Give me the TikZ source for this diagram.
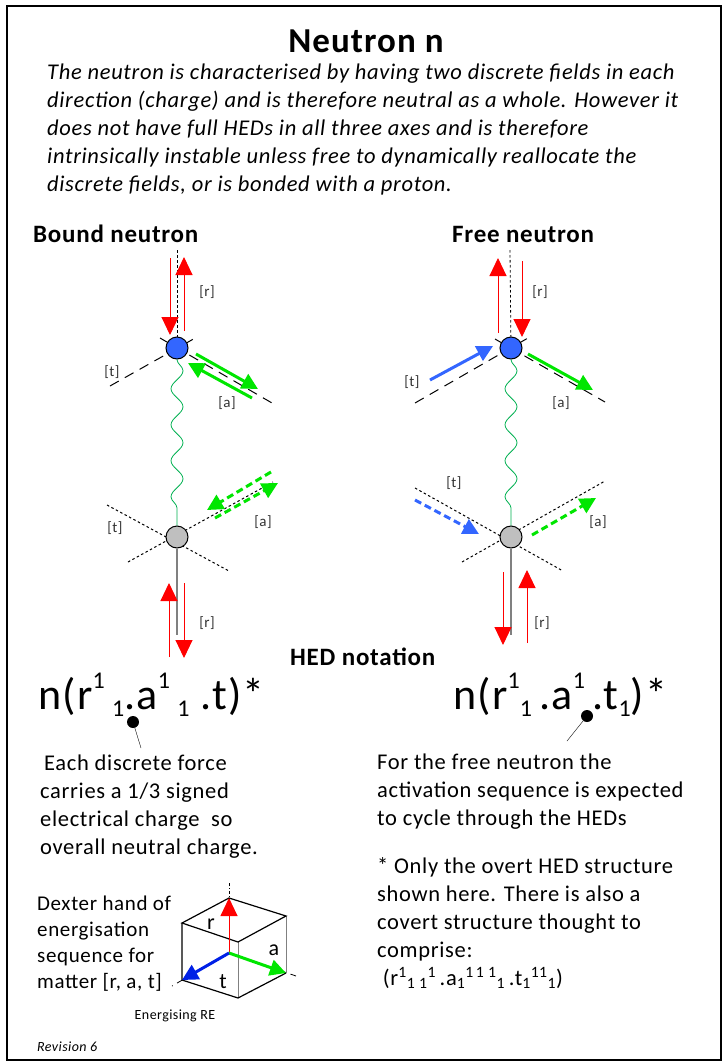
\documentclass[tikz,border=0pt]{standalone}
\usepackage{fontspec}
\setmainfont{Carlito}[LetterSpace=3]
\usetikzlibrary{arrows.meta,decorations.pathmorphing}
\definecolor{fred}{RGB}{255,0,0}
\definecolor{fgreen}{RGB}{0,230,0}
\definecolor{wgreen}{RGB}{0,176,80}
\definecolor{fblue}{RGB}{51,102,255}
\definecolor{cblue}{RGB}{0,32,230}
\definecolor{ngrey}{RGB}{191,191,191}
\newcommand\hsup[1]{\raisebox{21pt}{\fontsize{24}{24}\selectfont #1}}
\newcommand\hsub[1]{\raisebox{-7pt}{\fontsize{24}{24}\selectfont #1}}
\begin{document}
\begin{tikzpicture}[x=1pt, y=-1pt, every node/.style={inner sep=0pt},
    n/.style={circle, draw, line width=1pt, minimum size=22pt},
    lab/.style={font=\fontsize{15}{15}\selectfont, text=black!80},
    ax/.style={dash pattern=on 10pt off 7pt, line width=1pt},
    dax/.style={dash pattern=on 2.5pt off 2.5pt, line width=1pt},
    gdash/.style={dash pattern=on 7pt off 4pt},
    rarr/.style={fred, line width=1pt, -{Triangle[length=18pt,width=17pt]}},
    garr/.style={fgreen, line width=3pt, -{Triangle[length=16pt,width=16pt]}},
    barr/.style={fblue, line width=3pt, -{Triangle[length=16pt,width=16pt]}},
    wave/.style={wgreen, line width=0.8pt, decorate, decoration={snake, segment length=36pt, amplitude=6pt}},
    txt/.style={anchor=north west, align=left, font=\fontsize{22.5}{28}\selectfont}]
    \useasboundingbox (0,0) rectangle (724,1063);
    \draw[line width=2pt] (7,6) rectangle (721,1060);

    % heading and intro
    \node[anchor=base, font=\bfseries\fontsize{35}{35}\selectfont] (title) at (366,52) {Neutron n};
    \node[txt, font=\itshape\fontsize{22.5}{28}\selectfont] (intro) at (47,64) {The neutron is characterised by having two discrete fields in each\\
        direction (charge) and is therefore neutral as a whole. However it\\
        does not have full HEDs in all three axes and is therefore\\
        intrinsically instable unless free to dynamically reallocate the\\
        discrete fields, or is bonded with a proton.};
    \node[anchor=base west, font=\bfseries\fontsize{25}{25}\selectfont] (bhd) at (33,242) {Bound neutron};
    \node[anchor=base west, font=\bfseries\fontsize{25}{25}\selectfont] (fhd) at (452,242) {Free neutron};

    % axes (drawn under the particles)
    \coordinate (btt1) at (110,386); \coordinate (btt2) at (197,337);
    \coordinate (bta1) at (160,338); \coordinate (bta2) at (272,403);
    \coordinate (bbt1) at (107,505); \coordinate (bbt2) at (229,571);
    \coordinate (bba1) at (128,562); \coordinate (bba2) at (273,482);
    \coordinate (ftt1) at (415,403); \coordinate (ftt2) at (528,338);
    \coordinate (fta1) at (495,339); \coordinate (fta2) at (605,402);
    \coordinate (fbt1) at (415,488); \coordinate (fbt2) at (563,571);
    \coordinate (fba1) at (462,562); \coordinate (fba2) at (605,481);
    \draw[ax] (btt1) -- (btt2);
    \draw[ax] (bta1) -- (bta2);
    \draw[ax] (ftt1) -- (ftt2);
    \draw[ax] (fta1) -- (fta2);
    \draw[dax] (bbt1) -- (bbt2);
    \draw[dax] (bba1) -- (bba2);
    \draw[dax] (fbt1) -- (fbt2);
    \draw[dax] (fba1) -- (fba2);

    % particles
    \node[n, fill=fblue] (bt) at (177,348) {};
    \node[n, fill=ngrey] (bb) at (177,537) {};
    \node[n, fill=fblue] (ft) at (511,348) {};
    \node[n, fill=ngrey] (fb) at (511,537) {};

    \coordinate (btr) at (177,250);
    \coordinate (ftr) at (510,250);
    \coordinate (bbg) at (177,635);
    \coordinate (fbg) at (511,635);
    \draw[dax, line width=0.8pt] (btr) -- (bt);
    \draw[dax, line width=0.8pt] (ftr) -- (ft);
    \draw[gray, line width=1.5pt] (bb) -- (bbg);
    \draw[gray, line width=1.5pt] (fb) -- (fbg);
    \draw[wave] (bt) -- (bb);
    \draw[wave] (ft) -- (fb);

    % bound neutron fields
    \coordinate (br1s) at (170,258); \coordinate (br1e) at (170,335);
    \coordinate (br2s) at (184,331); \coordinate (br2e) at (184,257);
    \coordinate (bg1s) at (196,354); \coordinate (bg1e) at (258,389);
    \coordinate (bg2s) at (252,398); \coordinate (bg2e) at (188,363);
    \coordinate (bg3s) at (215,518); \coordinate (bg3e) at (278,483);
    \coordinate (bg4s) at (271,472); \coordinate (bg4e) at (207,510);
    \coordinate (br3s) at (169,657); \coordinate (br3e) at (169,583);
    \coordinate (br4s) at (184,583); \coordinate (br4e) at (184,658);
    \draw[rarr] (br1s) -- (br1e);
    \draw[rarr] (br2s) -- (br2e);
    \draw[garr] (bg1s) -- (bg1e);
    \draw[garr] (bg2s) -- (bg2e);
    \draw[garr, gdash] (bg3s) -- (bg3e);
    \draw[garr, gdash] (bg4s) -- (bg4e);
    \draw[rarr] (br3s) -- (br3e);
    \draw[rarr] (br4s) -- (br4e);

    % free neutron fields
    \coordinate (fr1s) at (498,333); \coordinate (fr1e) at (498,258);
    \coordinate (fr2s) at (522,261); \coordinate (fr2e) at (522,337);
    \coordinate (fl1s) at (430,380); \coordinate (fl1e) at (493,346);
    \coordinate (fg1s) at (528,354); \coordinate (fg1e) at (593,390);
    \coordinate (fl2s) at (415,500); \coordinate (fl2e) at (479,534);
    \coordinate (fg2s) at (532,535); \coordinate (fg2e) at (596,498);
    \coordinate (fr3s) at (503,572); \coordinate (fr3e) at (503,645);
    \coordinate (fr4s) at (527,643); \coordinate (fr4e) at (527,570);
    \draw[rarr] (fr1s) -- (fr1e);
    \draw[rarr] (fr2s) -- (fr2e);
    \draw[barr] (fl1s) -- (fl1e);
    \draw[garr] (fg1s) -- (fg1e);
    \draw[barr, gdash] (fl2s) -- (fl2e);
    \draw[garr, gdash] (fg2s) -- (fg2e);
    \draw[rarr] (fr3s) -- (fr3e);
    \draw[rarr] (fr4s) -- (fr4e);

    % axis labels
    \node[lab] (lbr1) at (207,292) {[r]};
    \node[lab] (lbt1) at (112,372) {[t]};
    \node[lab] (lba1) at (227,403) {[a]};
    \node[lab] (lba2) at (263,522) {[a]};
    \node[lab] (lbt2) at (115,528) {[t]};
    \node[lab] (lbr2) at (207,623) {[r]};
    \node[lab] (lfr1) at (540,292) {[r]};
    \node[lab] (lft1) at (412,382) {[t]};
    \node[lab] (lfa1) at (561,403) {[a]};
    \node[lab] (lft2) at (454,483) {[t]};
    \node[lab] (lfa2) at (598,522) {[a]};
    \node[lab] (lfr2) at (542,623) {[r]};

    % HED notation
    \node[anchor=base west, font=\bfseries\fontsize{25}{25}\selectfont] (hed) at (290,665) {HED notation};
    \node[anchor=base west, font=\fontsize{44}{44}\selectfont] (hedb) at (38,709) {n(r\hsup{1}\,\hsub{1}.a\hsup{1}\,\hsub{1}\ .t)*};
    \node[anchor=base west, font=\fontsize{44}{44}\selectfont] (hedf) at (453,709) {n(r\hsup{1}\hsub{1}\,.a\hsup{1}\,.t\hsub{1})*};
    \node[circle, fill, minimum size=12pt] (dl) at (133,722) {};
    \node[circle, fill, minimum size=12pt] (dr) at (587,716) {};
    \coordinate (dle) at (141,748);
    \coordinate (dre) at (567,741);
    \draw (dl) -- (dle);
    \draw (dr) -- (dre);

    \node[txt] (lnote) at (40,755) {\hspace{4pt}Each discrete force\\carries a 1/3 signed\\electrical charge\ \ so\\overall neutral charge.};
    \node[txt] (rnote) at (377,754) {For the free neutron the\\activation sequence is expected\\to cycle through the HEDs};
    \node[txt] (star) at (377,857) {* Only the overt HED structure\\shown here. There is also a\\covert structure thought to\\comprise:\\
        \ (r\textsuperscript{1}\textsubscript{1}\,\textsubscript{1}\textsuperscript{1}\,.a\textsubscript{1}\textsuperscript{1\,1}\,\textsuperscript{1}\textsubscript{1}\,.t\textsubscript{1}\textsuperscript{11}\textsubscript{1})};

    % energising cube
    \node[txt, font=\fontsize{21}{26}\selectfont] (dex) at (37,896) {Dexter hand of\\energisation\\sequence for\\matter [r, a, t]};
    \coordinate (c1) at (182,923); \coordinate (c2) at (229,898);
    \coordinate (c3) at (286,916); \coordinate (c4) at (238,942);
    \coordinate (c5) at (182,980); \coordinate (c6) at (238,998);
    \coordinate (c7) at (286,973); \coordinate (co) at (229,953);
    \coordinate (cup) at (229,882); \coordinate (cl) at (172,986);
    \coordinate (cr) at (296,976);
    \draw[gray, line width=1pt] (c4) -- (c6) (c3) -- (c7);
    \draw[line width=1.2pt] (c1) -- (c2) -- (c3) -- (c4) -- cycle;
    \draw[line width=1.2pt] (c1) -- (c5) -- (c6) -- (c7);
    \draw[dash dot, thin] (co) -- (cup);
    \draw[dash pattern=on 8pt off 5pt, line width=0.8pt] (co) -- (cl);
    \draw[dash pattern=on 8pt off 5pt, line width=0.8pt] (co) -- (cr);
    \draw[rarr] (co) -- (c2);
    \draw[garr] (co) -- (c7);
    \draw[cblue, line width=3pt, -{Triangle[length=16pt,width=16pt]}] (co) -- (c5);
    \node[font=\fontsize{22}{22}\selectfont] (cr1) at (211,924) {r};
    \node[font=\fontsize{22}{22}\selectfont] (ca1) at (274,950) {a};
    \node[font=\fontsize{22}{22}\selectfont] (ct1) at (223,982) {t};
    \node[anchor=base, font=\fontsize{14}{14}\selectfont] (ere) at (175,1019) {Energising RE};
    \node[anchor=base west, font=\itshape\fontsize{14}{14}\selectfont] (rev) at (37,1051) {Revision 6};
\end{tikzpicture}
\end{document}
